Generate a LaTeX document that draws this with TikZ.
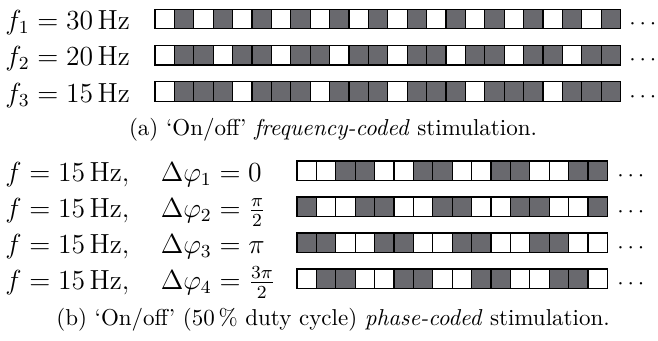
\documentclass[tikz,border=0pt]{standalone}
\usepackage{amsmath}
\definecolor{ongray}{RGB}{105,105,110}
\begin{document}
\begin{tikzpicture}[x=0.4348pt,y=-0.4348pt,
  cell/.style={draw=black, line width=0.45pt},
  lbl/.style={anchor=base west, inner sep=0pt, font=\fontsize{11.6}{14}\selectfont},
  dotstext/.style={anchor=base west, inner sep=0pt},
  captext/.style={anchor=base, inner sep=0pt}]
\useasboundingbox (0,0) rectangle (658,340);

% (a) frequency-coded rows: one white frame per period
\foreach \ry/\per/\k in {9.3/2/1, 45.6/3/2, 81.9/4/3} {
  \foreach \i in {0,...,23} {
    \pgfmathtruncatemacro\w{mod(\i,\per)==0}
    \ifnum\w=1 \def\c{white}\else\def\c{ongray}\fi
    \filldraw[cell, fill=\c] (155+19.4*\i, \ry) rectangle ++(19.4,19.4);
  }
  \node[dotstext] (dotsa\k) at (629, \ry+20.2) {$\cdots$};
}
\node[lbl] (fa1) at (5,29.5) {$f_1 = 30\,\mathrm{Hz}$};
\node[lbl] (fa2) at (5,65.8) {$f_2 = 20\,\mathrm{Hz}$};
\node[lbl] (fa3) at (5,102.1) {$f_3 = 15\,\mathrm{Hz}$};
\node[captext] (capa) at (333,135) {(a) `On/off' \emph{frequency-coded} stimulation.};

% (b) phase-coded rows: two on, two off, shifted per row
\foreach \ry/\s/\k in {161/0/1, 197/3/2, 233/2/3, 269/1/4} {
  \foreach \i in {0,...,15} {
    \pgfmathtruncatemacro\w{mod(\i+\s,4)<2}
    \ifnum\w=1 \def\c{white}\else\def\c{ongray}\fi
    \filldraw[cell, fill=\c] (297+19.4*\i, \ry) rectangle ++(19.4,19.4);
  }
  \node[dotstext] (dotsb\k) at (617, \ry+20.2) {$\cdots$};
}
\node[lbl] (fb1) at (5,181) {$f = 15\,\mathrm{Hz}, \quad \Delta\varphi_1 = 0$};
\node[lbl] (fb2) at (5,217) {$f = 15\,\mathrm{Hz}, \quad \Delta\varphi_2 = \frac{\pi}{2}$};
\node[lbl] (fb3) at (5,253) {$f = 15\,\mathrm{Hz}, \quad \Delta\varphi_3 = \pi$};
\node[lbl] (fb4) at (5,289) {$f = 15\,\mathrm{Hz}, \quad \Delta\varphi_4 = \frac{3\pi}{2}$};
\node[captext] (capb) at (333,325) {(b) `On/off' (50\,\% duty cycle) \emph{phase-coded} stimulation.};
\end{tikzpicture}
\end{document}
